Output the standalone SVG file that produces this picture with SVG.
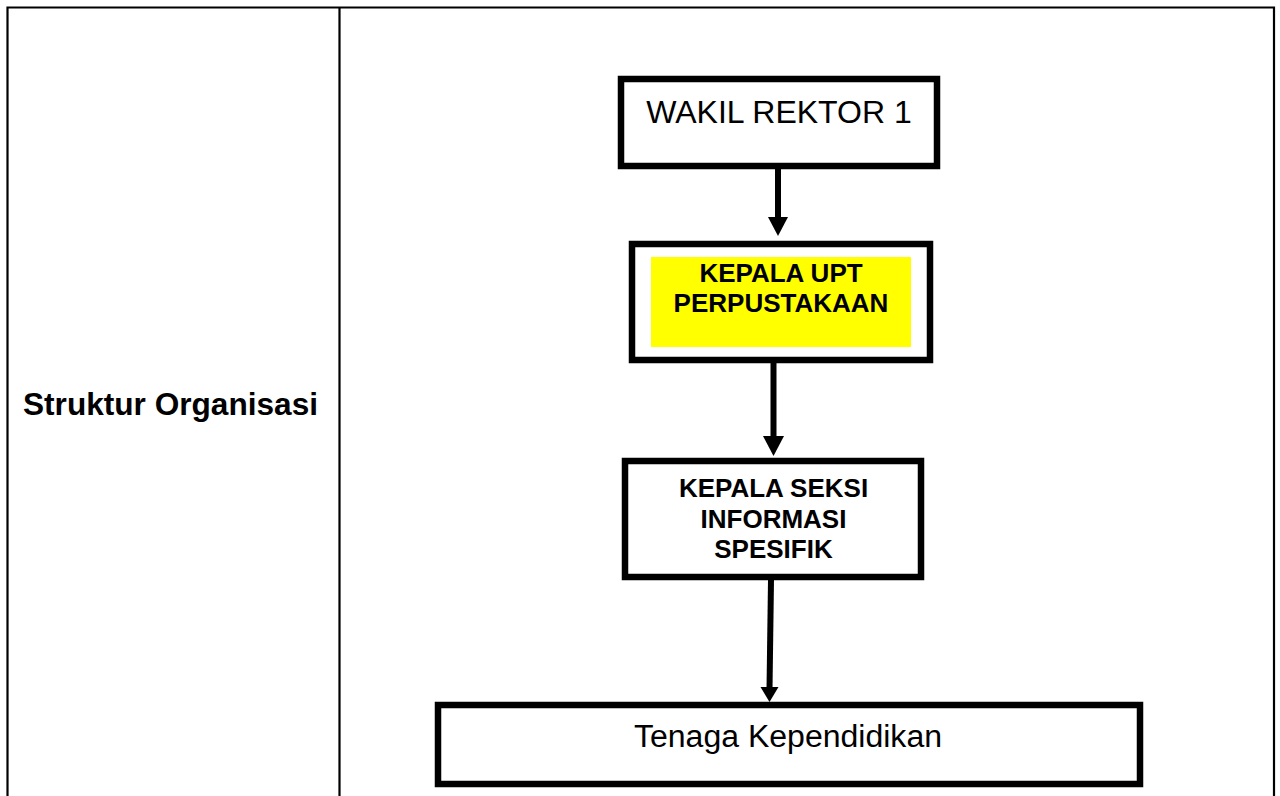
<svg xmlns="http://www.w3.org/2000/svg" width="1280" height="796" viewBox="0 0 1280 796">
<style>
.tbl{fill:none;stroke:#000;stroke-width:2.2}
.box{fill:#fff;stroke:#000;stroke-width:6.5}
.con{stroke:#000;stroke-width:6;fill:none}
.head{fill:#000}
.t{font-family:"Liberation Sans",Arial,sans-serif;fill:#000;text-anchor:middle}
.b{font-weight:bold;font-size:26px}
</style>
<rect width="1280" height="796" fill="#fff"/>
<g id="table">
<path class="tbl" d="M7.5,800 V7.5 H1274 V800 M339.5,7.5 V800"/>
<text x="23" y="415" style="font-family:'Liberation Sans',Arial,sans-serif;font-weight:bold;font-size:32px" textLength="295" lengthAdjust="spacingAndGlyphs">Struktur Organisasi</text>
</g>
<g id="connectors">
<line class="con" x1="778" y1="169" x2="778" y2="219"/>
<polygon class="head" points="768,217 788,217 778,236"/>
<line class="con" x1="773.5" y1="363" x2="773.5" y2="438"/>
<polygon class="head" points="763,436 784,436 773.5,456"/>
<line class="con" x1="771" y1="580" x2="769.5" y2="689"/>
<polygon class="head" points="760.5,687 778.5,687 769.5,702"/>
</g>
<g id="wakil-rektor">
<rect class="box" x="621" y="79" width="316" height="87"/>
<text class="t" x="779" y="123" font-size="32">WAKIL REKTOR 1</text>
</g>
<g id="kepala-upt">
<rect class="box" x="632" y="244" width="298" height="116"/>
<rect x="651" y="257" width="260" height="90" fill="#ffff00"/>
<text class="t b" x="781" y="282">KEPALA UPT</text>
<text class="t b" x="781" y="312">PERPUSTAKAAN</text>
</g>
<g id="kepala-seksi">
<rect class="box" x="625" y="461" width="296" height="116"/>
<text class="t b" x="773.5" y="497">KEPALA SEKSI</text>
<text class="t b" x="773.5" y="528">INFORMASI</text>
<text class="t b" x="773.5" y="558">SPESIFIK</text>
</g>
<g id="tenaga">
<rect class="box" x="438" y="705" width="702" height="79"/>
<text class="t" x="788" y="747" font-size="31" textLength="308" lengthAdjust="spacingAndGlyphs">Tenaga Kependidikan</text>
</g>
</svg>
